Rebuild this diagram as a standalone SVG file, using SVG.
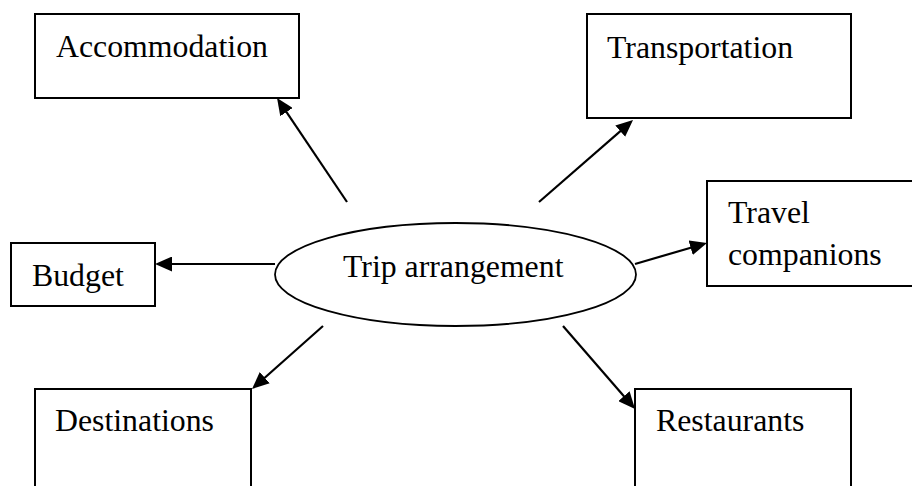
<svg xmlns="http://www.w3.org/2000/svg" width="912" height="486" viewBox="0 0 912 486">
  <style>
    .box { fill: #ffffff; stroke: #000000; stroke-width: 2; }
    .hub { fill: #ffffff; stroke: #000000; stroke-width: 1.8; }
    .label { font-family: "Liberation Serif", "Times New Roman", serif; font-size: 31.8px; fill: #000000; }
    .link { stroke: #000000; stroke-width: 2.2; fill: none; marker-end: url(#arrow); }
  </style>
  <defs>
    <!-- filled arrowhead; its tip sits 8px beyond the end of each line -->
    <marker id="arrow" viewBox="0 0 17 15" markerWidth="17" markerHeight="15" markerUnits="userSpaceOnUse" refX="9" refY="7.5" orient="auto">
      <path d="M0,0 L17,7.5 L0,15 z" fill="#000000"/>
    </marker>
  </defs>
  <rect x="0" y="0" width="912" height="486" fill="#ffffff"/>

  <g id="accommodation">
    <rect class="box" x="35" y="14" width="264" height="84"/>
    <text class="label" x="56" y="57">Accommodation</text>
  </g>

  <g id="transportation">
    <rect class="box" x="587" y="14" width="264" height="104"/>
    <text class="label" x="607" y="58">Transportation</text>
  </g>

  <g id="travel-companions">
    <rect class="box" x="707" y="181" width="220" height="105"/>
    <text class="label" x="728" y="223">Travel</text>
    <text class="label" x="728" y="265">companions</text>
  </g>

  <g id="budget">
    <rect class="box" x="11" y="243" width="144" height="63"/>
    <text class="label" x="32" y="286">Budget</text>
  </g>

  <g id="trip-arrangement">
    <ellipse class="hub" cx="455.5" cy="274.5" rx="180.5" ry="51.5"/>
    <text class="label" x="343" y="277">Trip arrangement</text>
  </g>

  <g id="destinations">
    <rect class="box" x="35" y="389" width="216" height="110"/>
    <text class="label" x="55" y="431">Destinations</text>
  </g>

  <g id="restaurants">
    <rect class="box" x="635" y="389" width="216" height="110"/>
    <text class="label" x="656" y="431">Restaurants</text>
  </g>

  <g id="connectors">
    <line class="link" x1="347" y1="202" x2="281.5" y2="104.6"/>
    <line class="link" x1="539" y1="202" x2="627" y2="125.3"/>
    <line class="link" x1="635" y1="264" x2="699.3" y2="245.2"/>
    <line class="link" x1="275" y1="264" x2="163" y2="264"/>
    <line class="link" x1="323" y1="326" x2="258" y2="383.7"/>
    <line class="link" x1="563" y1="326" x2="629.8" y2="403"/>
  </g>
</svg>
